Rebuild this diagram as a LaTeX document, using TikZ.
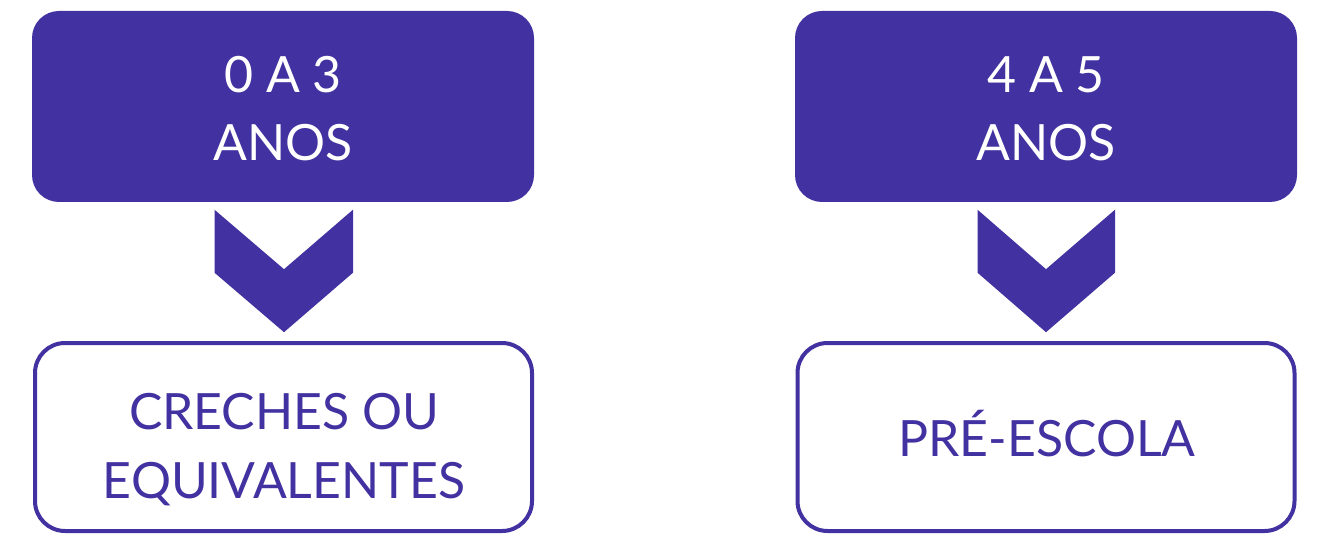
\documentclass[tikz,border=0pt]{standalone}
\usepackage{fontspec}
\setmainfont{Lato}
\definecolor{roxo}{RGB}{66,49,160}
\tikzset{
  topbox/.style={fill=roxo, draw=none, rounded corners=27pt, minimum width=502pt, minimum height=191pt, inner sep=0pt},
  botbox/.style={fill=white, draw=roxo, line width=4pt, rounded corners=30pt, minimum width=497pt, minimum height=188pt, inner sep=0pt},
  toptxt/.style={text=white, font=\fontsize{50}{60}\selectfont, anchor=base, inner sep=0pt},
  bottxt/.style={text=roxo, font=\fontsize{50}{60}\selectfont, anchor=base, inner sep=0pt},
  chev/.style={fill=roxo, draw=none}
}
\begin{document}
\begin{tikzpicture}[x=1pt,y=-1pt]
\useasboundingbox (0,0) rectangle (1328,553);
% left column
\node[topbox] (t1) at (283,106.5) {};
\node[toptxt] (t1a) at (283,93) {0 A 3};
\node[toptxt] (t1b) at (283,161) {ANOS};
\node[botbox] (b1) at (283.5,437) {};
\node[bottxt] (b1a) at (284,429) {CRECHES OU};
\node[bottxt] (b1b) at (284,498) {EQUIVALENTES};
\fill[chev] ([xshift=-68.5pt,yshift=-7.5pt]t1.south) -- ([xshift=1pt,yshift=-67pt]t1.south) -- ([xshift=70pt,yshift=-7.5pt]t1.south) -- ([xshift=70pt,yshift=-70.5pt]t1.south) -- ([xshift=1pt,yshift=-130pt]t1.south) -- ([xshift=-68.5pt,yshift=-70.5pt]t1.south) -- cycle;
% right column
\node[topbox] (t2) at (1046,106.5) {};
\node[toptxt] (t2a) at (1046,93) {4 A 5};
\node[toptxt] (t2b) at (1046,161) {ANOS};
\node[botbox] (b2) at (1046,437) {};
\node[bottxt] (b2a) at (1047,456) {PRÉ-ESCOLA};
\fill[chev] ([xshift=-68.5pt,yshift=-7.5pt]t2.south) -- ([xshift=0pt,yshift=-67pt]t2.south) -- ([xshift=69pt,yshift=-7.5pt]t2.south) -- ([xshift=69pt,yshift=-70.5pt]t2.south) -- ([xshift=0pt,yshift=-130pt]t2.south) -- ([xshift=-68.5pt,yshift=-70.5pt]t2.south) -- cycle;
\end{tikzpicture}
\end{document}
